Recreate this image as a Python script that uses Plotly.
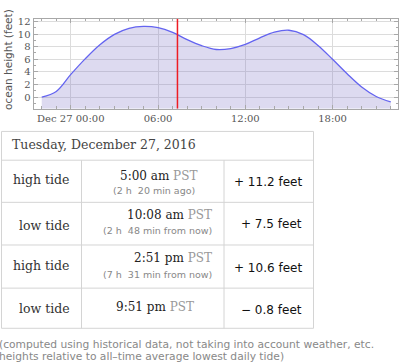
import plotly.graph_objects as go

# ---------------- data ----------------
times = [
    "2016-12-26 22:00", "2016-12-26 23:00", "2016-12-27 00:00", "2016-12-27 01:00",
    "2016-12-27 02:00", "2016-12-27 03:00", "2016-12-27 04:00", "2016-12-27 05:00",
    "2016-12-27 06:00", "2016-12-27 07:00", "2016-12-27 08:00", "2016-12-27 09:00",
    "2016-12-27 10:00", "2016-12-27 11:00", "2016-12-27 12:00", "2016-12-27 13:00",
    "2016-12-27 14:00", "2016-12-27 15:00", "2016-12-27 16:00", "2016-12-27 17:00",
    "2016-12-27 18:00", "2016-12-27 19:00", "2016-12-27 20:00", "2016-12-27 21:00",
    "2016-12-27 22:00",
]
heights = [0.0, 0.9, 3.6, 6.1, 8.3, 9.95, 10.9, 11.2, 11.0, 10.25, 9.1, 8.15,
           7.55, 7.7, 8.35, 9.4, 10.3, 10.6, 9.9, 8.2, 6.0, 3.7, 1.6, 0.1, -0.75]
now_time = "2016-12-27 07:20"

x_tick_vals = ["2016-12-27 00:00", "2016-12-27 06:00", "2016-12-27 12:00", "2016-12-27 18:00"]
x_tick_text = ["Dec 27 00:00", "06:00", "12:00", "18:00"]
x_range = ["2016-12-26 21:26", "2016-12-27 22:30"]
y_range = [-1.85, 12.4]

table_title = "Tuesday, December 27, 2016"
tide_kind = ["high tide", "low tide", "high tide", "low tide"]
tide_time = ["5:00 am", "10:08 am", "2:51 pm", "9:51 pm"]
tide_zone = ["PST", "PST", "PST", "PST"]
tide_rel = ["(2 h  20 min ago)", "(2 h  48 min from now)", "(7 h  31 min from now)", ""]
tide_height = ["+ 11.2 feet", "+ 7.5 feet", "+ 10.6 feet", "\u2212 0.8 feet"]
footnotes = ["(computed using historical data, not taking into account weather, etc.",
             "heights relative to all\u2013time average lowest daily tide)"]

W, H = 400, 364
def px(x):
    return x / W
def py(y):
    return 1 - y / H

SERIF = "DejaVu Serif"
SANS = "DejaVu Sans"
AX = "#a8a8a8"

fig = go.Figure()
# baseline at bottom of the plot for filling
fig.add_trace(go.Scatter(x=times, y=[y_range[0]] * len(times), mode="lines",
                         line=dict(width=0), hoverinfo="skip", showlegend=False))
fig.add_trace(go.Scatter(x=times, y=heights, mode="lines", fill="tonexty",
                         fillcolor="rgba(130,120,200,0.27)",
                         line=dict(color="#6464f0", width=1.3, shape="spline"),
                         showlegend=False))

# current-time marker
fig.add_shape(type="line", xref="x", yref="y", x0=now_time, x1=now_time,
              y0=y_range[0], y1=y_range[1], line=dict(color="#ee1c24", width=1.5))

fig.update_xaxes(type="date", range=x_range, tickmode="array", tickvals=x_tick_vals,
                 ticktext=x_tick_text, showgrid=True, gridcolor="#dcdcdc", gridwidth=1,
                 showline=True, linecolor=AX, linewidth=1, mirror="allticks",
                 ticks="inside", ticklen=4, tickcolor=AX,
                 tickfont=dict(family=SERIF, size=10, color="#555"),
                 minor=dict(dtick=3600000, tick0="2016-12-27 00:00", ticks="inside",
                            ticklen=2.5, tickcolor=AX, showgrid=False),
                 zeroline=False, domain=[px(33.5), px(398)])
fig.update_yaxes(range=y_range, tick0=0, dtick=2, showgrid=True, gridcolor="#dcdcdc",
                 showline=True, linecolor=AX, linewidth=1, mirror="allticks",
                 ticks="inside", ticklen=4, tickcolor=AX,
                 tickfont=dict(family=SERIF, size=10, color="#555"),
                 minor=dict(dtick=1, tick0=0, ticks="inside", ticklen=2.5,
                            tickcolor=AX, showgrid=False),
                 zeroline=False, domain=[py(106.7), py(16)])

annotations = []
# y-axis title
annotations.append(dict(x=px(7.5), y=py(57), xref="paper", yref="paper",
                        text="ocean height (feet)", textangle=-90, showarrow=False,
                        font=dict(family=SANS, size=10.5, color="#555"),
                        xanchor="center", yanchor="middle"))

# table grid
shapes = []
GRID = "#d4d4d4"
tab_l, tab_r = 1.5, 313.5
col1, col2 = 81.5, 224
row_y = [129.5, 158.5, 201, 244, 287.5, 328]
for y in row_y:
    shapes.append(dict(type="line", xref="paper", yref="paper", x0=px(tab_l), x1=px(tab_r),
                       y0=py(y), y1=py(y), line=dict(color=GRID, width=1)))
for x in [tab_l, tab_r]:
    shapes.append(dict(type="line", xref="paper", yref="paper", x0=px(x), x1=px(x),
                       y0=py(row_y[0]), y1=py(row_y[-1]), line=dict(color=GRID, width=1)))
for x in [col1, col2]:
    shapes.append(dict(type="line", xref="paper", yref="paper", x0=px(x), x1=px(x),
                       y0=py(row_y[1]), y1=py(row_y[-1]), line=dict(color=GRID, width=1)))
for s in shapes:
    fig.add_shape(**s)

def ann(x, y, text, family, size, color, xanchor="left"):
    annotations.append(dict(x=px(x), y=py(y), xref="paper", yref="paper", text=text,
                            showarrow=False, font=dict(family=family, size=size, color=color),
                            xanchor=xanchor, yanchor="middle", borderpad=0))

ann(11, 143, table_title, SERIF, 12.5, "#444")

main_y = [174.8, 213.5, 257.5, 306.7]
sub_y = [188.8, 229.2, 273.5, None]
kind_y = [178.3, 224.3, 265, 308.3]
hgt_y = [180, 223.3, 266.7, 309.3]
time_right = [198, 213, 213, 195]
sub_right = [196, 213, 213, None]
for i in range(4):
    ann(70.5, kind_y[i], tide_kind[i], SERIF, 12.5, "#333", "right")
    ann(time_right[i], main_y[i],
        f"{tide_time[i]} <span style='color:#999'>{tide_zone[i]}</span>",
        SERIF, 12, "#222", "right")
    if tide_rel[i]:
        ann(sub_right[i], sub_y[i], tide_rel[i], SANS, 9.5, "#888", "right")
    ann(303, hgt_y[i], tide_height[i], SANS, 12, "#111", "right")

ann(-2, 344, footnotes[0], SANS, 10.7, "#888")
ann(-2, 356.7, footnotes[1], SANS, 10.7, "#888")

fig.update_layout(width=W, height=H, margin=dict(l=0, r=0, t=0, b=0),
                  paper_bgcolor="white", plot_bgcolor="white",
                  annotations=annotations, showlegend=False)

fig.write_html("out.html", config={"displayModeBar": False},
               post_script="document.body.style.margin='0';document.body.style.overflow='hidden';")
